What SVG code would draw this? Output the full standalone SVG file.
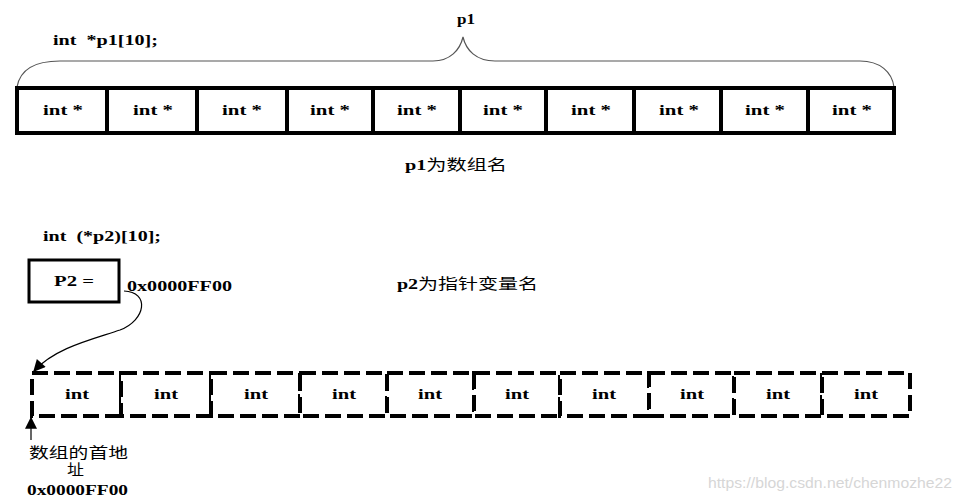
<svg xmlns="http://www.w3.org/2000/svg" width="962" height="502" viewBox="0 0 962 502">
<style>
.t{font-family:"Liberation Serif","Noto Sans CJK SC",serif;font-weight:bold;font-size:15px;fill:#000;white-space:pre}
.c{text-anchor:middle}
.z{font-family:"Liberation Serif","Noto Sans CJK SC",serif;font-size:15px;fill:#000}
.cell{fill:#fff;stroke:#000;stroke-width:4}
.dcell{fill:#fff;stroke:#000;stroke-width:4;stroke-dasharray:16 6}
.thin{fill:none;stroke:#555;stroke-width:1.2}
</style>
<defs>
<marker id="ah2" viewBox="0 0 10 10" refX="9" refY="5" markerWidth="14" markerHeight="12" orient="auto" markerUnits="userSpaceOnUse">
<path d="M0,0 L10,5 L0,10 z" fill="#000"/>
</marker>
</defs>
<rect width="962" height="502" fill="#fff"/>

<g id="decl1"><text class="t" x="53" y="45" textLength="105" lengthAdjust="spacingAndGlyphs">int  *p1[10];</text></g>
<g id="p1label"><text class="t" x="457" y="24" textLength="18" lengthAdjust="spacingAndGlyphs">p1</text></g>
<g id="brace"><path class="thin" d="M17,87 C20,70 35,61 60,61 L433,61 C450,61 460,50 463,37 C466,50 476,61 495,61 L860,61 C880,61 892,72 894,87"/></g>

<g id="array1">
<rect class="cell" x="17" y="88" width="877" height="45"/>
<line x1="107" y1="88" x2="107" y2="133" stroke="#000" stroke-width="4"/>
<line x1="197" y1="88" x2="197" y2="133" stroke="#000" stroke-width="4"/>
<line x1="287" y1="88" x2="287" y2="133" stroke="#000" stroke-width="4"/>
<line x1="373" y1="88" x2="373" y2="133" stroke="#000" stroke-width="4"/>
<line x1="460" y1="88" x2="460" y2="133" stroke="#000" stroke-width="4"/>
<line x1="546" y1="88" x2="546" y2="133" stroke="#000" stroke-width="4"/>
<line x1="634" y1="88" x2="634" y2="133" stroke="#000" stroke-width="4"/>
<line x1="721" y1="88" x2="721" y2="133" stroke="#000" stroke-width="4"/>
<line x1="808" y1="88" x2="808" y2="133" stroke="#000" stroke-width="4"/>
<text class="t" x="43" y="115" textLength="40" lengthAdjust="spacingAndGlyphs">int *</text>
<text class="t" x="133" y="115" textLength="40" lengthAdjust="spacingAndGlyphs">int *</text>
<text class="t" x="222" y="115" textLength="40" lengthAdjust="spacingAndGlyphs">int *</text>
<text class="t" x="310" y="115" textLength="40" lengthAdjust="spacingAndGlyphs">int *</text>
<text class="t" x="397" y="115" textLength="40" lengthAdjust="spacingAndGlyphs">int *</text>
<text class="t" x="483" y="115" textLength="40" lengthAdjust="spacingAndGlyphs">int *</text>
<text class="t" x="571" y="115" textLength="40" lengthAdjust="spacingAndGlyphs">int *</text>
<text class="t" x="659" y="115" textLength="40" lengthAdjust="spacingAndGlyphs">int *</text>
<text class="t" x="745" y="115" textLength="40" lengthAdjust="spacingAndGlyphs">int *</text>
<text class="t" x="832" y="115" textLength="40" lengthAdjust="spacingAndGlyphs">int *</text>
</g>
<g id="note1"><text class="z" x="405" y="170" textLength="102" lengthAdjust="spacingAndGlyphs"><tspan font-weight="bold">p1</tspan>为数组名</text></g>

<g id="decl2"><text class="t" x="43" y="241" textLength="118" lengthAdjust="spacingAndGlyphs">int  (*p2)[10];</text></g>
<g id="p2box">
<rect x="29" y="260" width="90" height="42" fill="#fff" stroke="#000" stroke-width="3"/>
<text class="t" x="54" y="286" textLength="40" lengthAdjust="spacingAndGlyphs">P2 =</text>
</g>
<g id="addr1"><text class="t" x="127" y="291" textLength="105" lengthAdjust="spacingAndGlyphs">0x0000FF00</text></g>
<g id="note2"><text class="z" x="397" y="289" textLength="141" lengthAdjust="spacingAndGlyphs"><tspan font-weight="bold">p2</tspan>为指针变量名</text></g>

<g id="array2">
<rect class="dcell" x="32" y="373" width="89" height="43"/>
<rect class="dcell" x="121" y="373" width="90" height="43"/>
<rect class="dcell" x="211" y="373" width="89" height="43"/>
<rect class="dcell" x="300" y="373" width="87" height="43"/>
<rect class="dcell" x="387" y="373" width="87" height="43"/>
<rect class="dcell" x="474" y="373" width="86" height="43"/>
<rect class="dcell" x="560" y="373" width="89" height="43"/>
<rect class="dcell" x="649" y="373" width="85" height="43"/>
<rect class="dcell" x="734" y="373" width="88" height="43"/>
<rect class="dcell" x="822" y="373" width="88" height="43"/>
<text class="t" x="65" y="399" textLength="24" lengthAdjust="spacingAndGlyphs">int</text>
<text class="t" x="154" y="399" textLength="24" lengthAdjust="spacingAndGlyphs">int</text>
<text class="t" x="244" y="399" textLength="24" lengthAdjust="spacingAndGlyphs">int</text>
<text class="t" x="332" y="399" textLength="24" lengthAdjust="spacingAndGlyphs">int</text>
<text class="t" x="418" y="399" textLength="24" lengthAdjust="spacingAndGlyphs">int</text>
<text class="t" x="505" y="399" textLength="24" lengthAdjust="spacingAndGlyphs">int</text>
<text class="t" x="592" y="399" textLength="24" lengthAdjust="spacingAndGlyphs">int</text>
<text class="t" x="680" y="399" textLength="24" lengthAdjust="spacingAndGlyphs">int</text>
<text class="t" x="766" y="399" textLength="24" lengthAdjust="spacingAndGlyphs">int</text>
<text class="t" x="854" y="399" textLength="24" lengthAdjust="spacingAndGlyphs">int</text>
</g>

<g id="connectors">
<path d="M124,291 C150,292 146,320 120,330 C90,340 55,348 34,371" fill="none" stroke="#000" stroke-width="1.2" marker-end="url(#ah2)"/>
<path d="M31,440 L31,418" fill="none" stroke="#000" stroke-width="1.2" marker-end="url(#ah2)"/>
</g>

<g id="caption">
<text class="z" x="29" y="458" textLength="99" lengthAdjust="spacingAndGlyphs">数组的首地</text>
<text class="z" x="67" y="475" textLength="17" lengthAdjust="spacingAndGlyphs">址</text>
<text class="t" x="27" y="495" textLength="101" lengthAdjust="spacingAndGlyphs">0x0000FF00</text>
</g>
<g id="watermark"><text x="708" y="488" font-family="'Liberation Sans',sans-serif" font-size="14.5" fill="#d6d6d6" textLength="244" lengthAdjust="spacingAndGlyphs">https://blog.csdn.net/chenmozhe22</text></g>
</svg>
